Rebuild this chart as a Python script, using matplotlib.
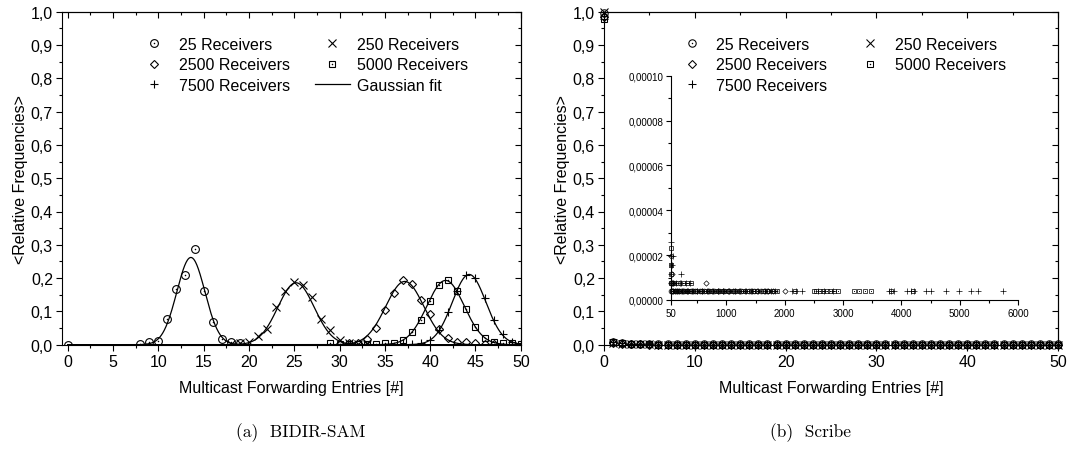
import numpy as np
import matplotlib
matplotlib.use('Agg')
import matplotlib.pyplot as plt
from matplotlib.ticker import MultipleLocator, FuncFormatter, FixedLocator
from matplotlib.legend_handler import HandlerTuple

plt.rcParams['font.family'] = ['Liberation Sans', 'DejaVu Sans']

# ---------------- data: (a) BIDIR-SAM ----------------
series_labels = ['25 Receivers', '250 Receivers', '2500 Receivers', '5000 Receivers', '7500 Receivers']

a25_x = [0, 8, 9, 10, 11, 12, 13, 14, 15, 16, 17, 18, 19]
a25_y = [0.0, 0.003, 0.007, 0.012, 0.076, 0.168, 0.210, 0.286, 0.161, 0.068, 0.016, 0.009, 0.006]

a250_x = [18, 19, 20, 21, 22, 23, 24, 25, 26, 27, 28, 29, 30, 31, 32, 33]
a250_y = [0.002, 0.004, 0.009, 0.027, 0.047, 0.114, 0.162, 0.187, 0.178, 0.143, 0.078, 0.045, 0.014, 0.006, 0.003, 0.001]

a2500_x = [30, 31, 32, 33, 34, 35, 36, 37, 38, 39, 40, 41, 42, 43, 44, 45, 46, 47]
a2500_y = [0.002, 0.004, 0.006, 0.018, 0.051, 0.105, 0.155, 0.195, 0.181, 0.133, 0.093, 0.048, 0.020, 0.009, 0.007, 0.004, 0.003, 0.002]

a5000_x = [29, 30, 31, 32, 33, 34, 35, 36, 37, 38, 39, 40, 41, 42, 43, 44, 45, 46, 47, 48, 49, 50]
a5000_y = [0.005, 0.003, 0.003, 0.003, 0.003, 0.003, 0.004, 0.006, 0.013, 0.037, 0.075, 0.131, 0.178, 0.193, 0.161, 0.108, 0.054, 0.021, 0.009, 0.006, 0.004, 0.002]

a7500_x = [37, 38, 39, 40, 41, 42, 43, 44, 45, 46, 47, 48, 49, 50]
a7500_y = [0.001, 0.002, 0.005, 0.015, 0.045, 0.099, 0.162, 0.209, 0.200, 0.141, 0.074, 0.031, 0.009, 0.005]

# Gaussian fit parameters (centre, sigma, amplitude) per series
fit_centre = [13.6, 25.2, 37.2, 41.7, 44.3]
fit_sigma = [1.55, 2.0, 2.1, 2.05, 1.85]
fit_amp = [0.262, 0.186, 0.190, 0.193, 0.211]

# ---------------- data: (b) Scribe ----------------
b_x = list(range(51))
b25_y = [0.997, 0.009, 0.005, 0.003, 0.002, 0.002, 0.001, 0.001, 0.001, 0.001,
         0.001, 0.001, 0.001, 0.001, 0.001, 0.001, 0.001, 0.001, 0.001, 0.001,
         0.001, 0.001, 0.001, 0.001, 0.001, 0.001, 0.001, 0.001, 0.001, 0.001,
         0.001, 0.001, 0.001, 0.001, 0.001, 0.001, 0.001, 0.001, 0.001, 0.001,
         0.001, 0.001, 0.001, 0.001, 0.001, 0.001, 0.001, 0.001, 0.001, 0.001, 0.001]
b250_y = [0.999, 0.004, 0.002, 0.001, 0.001, 0.001, 0.0, 0.0, 0.0, 0.0,
          0.0, 0.0, 0.0, 0.0, 0.0, 0.0, 0.0, 0.0, 0.0, 0.0,
          0.0, 0.0, 0.0, 0.0, 0.0, 0.0, 0.0, 0.0, 0.0, 0.0,
          0.0, 0.0, 0.0, 0.0, 0.0, 0.0, 0.0, 0.0, 0.0, 0.0,
          0.0, 0.0, 0.0, 0.0, 0.0, 0.0, 0.0, 0.0, 0.0, 0.0, 0.0]
b2500_y = [0.985, 0.006, 0.003, 0.001, 0.001, 0.0, 0.0, 0.0, 0.0, 0.0,
           0.0, 0.0, 0.0, 0.0, 0.0, 0.0, 0.0, 0.0, 0.0, 0.0,
           0.0, 0.0, 0.0, 0.0, 0.0, 0.0, 0.0, 0.0, 0.0, 0.0,
           0.0, 0.0, 0.0, 0.0, 0.0, 0.0, 0.0, 0.0, 0.0, 0.0,
           0.0, 0.0, 0.0, 0.0, 0.0, 0.0, 0.0, 0.0, 0.0, 0.0, 0.0]
b5000_y = [0.978, 0.008, 0.004, 0.002, 0.001, 0.001, 0.0, 0.0, 0.0, 0.0,
           0.0, 0.0, 0.0, 0.0, 0.0, 0.0, 0.0, 0.0, 0.0, 0.0,
           0.0, 0.0, 0.0, 0.0, 0.0, 0.0, 0.0, 0.0, 0.0, 0.0,
           0.0, 0.0, 0.0, 0.0, 0.0, 0.0, 0.0, 0.0, 0.0, 0.0,
           0.0, 0.0, 0.0, 0.0, 0.0, 0.0, 0.0, 0.0, 0.0, 0.0, 0.0]
b7500_y = [0.977, 0.009, 0.004, 0.002, 0.001, 0.001, 0.0, 0.0, 0.0, 0.0,
           0.0, 0.0, 0.0, 0.0, 0.0, 0.0, 0.0, 0.0, 0.0, 0.0,
           0.0, 0.0, 0.0, 0.0, 0.0, 0.0, 0.0, 0.0, 0.0, 0.0,
           0.0, 0.0, 0.0, 0.0, 0.0, 0.0, 0.0, 0.0, 0.0, 0.0,
           0.0, 0.0, 0.0, 0.0, 0.0, 0.0, 0.0, 0.0, 0.0, 0.0, 0.0]

# inset: tail of the Scribe distributions (entries 50..6000)
i25_x = [55, 80, 55, 90, 130, 175, 220, 270, 330, 390, 460, 540, 620, 700, 790, 880, 960, 1050, 1150, 1250, 1380, 1480, 1600, 1700]
i25_y = [7.8e-6, 7.8e-6, 3.9e-6, 3.9e-6, 3.9e-6, 3.9e-6, 3.9e-6, 3.9e-6, 3.9e-6, 3.9e-6, 3.9e-6, 3.9e-6, 3.9e-6, 3.9e-6, 3.9e-6, 3.9e-6, 3.9e-6, 3.9e-6, 3.9e-6, 3.9e-6, 3.9e-6, 3.9e-6, 3.9e-6, 3.9e-6]
i250_x = [52, 60, 120, 60, 110, 160, 210, 280, 350, 430, 510, 600, 690, 780, 870, 980, 1080, 1180, 1300, 1420, 1560, 1680, 1760, 1850]
i250_y = [1.56e-5, 7.8e-6, 7.8e-6, 3.9e-6, 3.9e-6, 3.9e-6, 3.9e-6, 3.9e-6, 3.9e-6, 3.9e-6, 3.9e-6, 3.9e-6, 3.9e-6, 3.9e-6, 3.9e-6, 3.9e-6, 3.9e-6, 3.9e-6, 3.9e-6, 3.9e-6, 3.9e-6, 3.9e-6, 3.9e-6, 3.9e-6]
i2500_x = [52, 60, 70, 200, 650, 70, 120, 190, 260, 340, 420, 500, 580, 680, 760, 850, 940, 1030, 1120, 1220, 1320, 1420, 1530, 1640, 1720, 1800, 2000]
i2500_y = [1.95e-5, 1.17e-5, 7.8e-6, 7.8e-6, 7.8e-6, 3.9e-6, 3.9e-6, 3.9e-6, 3.9e-6, 3.9e-6, 3.9e-6, 3.9e-6, 3.9e-6, 3.9e-6, 3.9e-6, 3.9e-6, 3.9e-6, 3.9e-6, 3.9e-6, 3.9e-6, 3.9e-6, 3.9e-6, 3.9e-6, 3.9e-6, 3.9e-6, 3.9e-6, 3.9e-6]
i5000_x = [52, 55, 52, 55, 100, 170, 250, 330, 400,
           65, 140, 210, 300, 380, 470, 560, 650, 740, 830, 910, 1000, 1100, 1190, 1280, 1360, 1450, 1520, 1620, 1700, 1780, 1870,
           2180, 2500, 2540, 2600, 2650, 2720, 2780, 2850, 2920, 3180, 3280, 3380, 3480, 3830, 4200]
i5000_y = [2.34e-5, 1.56e-5, 1.17e-5, 7.8e-6, 7.8e-6, 7.8e-6, 7.8e-6, 7.8e-6, 7.8e-6,
           3.9e-6, 3.9e-6, 3.9e-6, 3.9e-6, 3.9e-6, 3.9e-6, 3.9e-6, 3.9e-6, 3.9e-6, 3.9e-6, 3.9e-6, 3.9e-6, 3.9e-6, 3.9e-6, 3.9e-6, 3.9e-6, 3.9e-6, 3.9e-6, 3.9e-6, 3.9e-6, 3.9e-6, 3.9e-6,
           3.9e-6, 3.9e-6, 3.9e-6, 3.9e-6, 3.9e-6, 3.9e-6, 3.9e-6, 3.9e-6, 3.9e-6, 3.9e-6, 3.9e-6, 3.9e-6, 3.9e-6, 3.9e-6, 3.9e-6]
i7500_x = [50, 55, 90, 60, 55, 220, 50, 90, 140, 230, 300, 380,
           80, 150, 240, 320, 410, 490, 580, 670, 770, 860, 950, 1040, 1140, 1240, 1340, 1440, 1540, 1660, 1760, 1830,
           2130, 2200, 2290, 2570, 2680, 2820, 3780, 3820, 3880, 4100, 4160, 4220, 4420, 4500, 4760, 4990, 5200, 5310, 5740]
i7500_y = [2.6e-5, 1.95e-5, 1.95e-5, 1.56e-5, 1.17e-5, 1.17e-5, 7.8e-6, 7.8e-6, 7.8e-6, 7.8e-6, 7.8e-6, 7.8e-6,
           3.9e-6, 3.9e-6, 3.9e-6, 3.9e-6, 3.9e-6, 3.9e-6, 3.9e-6, 3.9e-6, 3.9e-6, 3.9e-6, 3.9e-6, 3.9e-6, 3.9e-6, 3.9e-6, 3.9e-6, 3.9e-6, 3.9e-6, 3.9e-6, 3.9e-6, 3.9e-6,
           3.9e-6, 3.9e-6, 3.9e-6, 3.9e-6, 3.9e-6, 3.9e-6, 3.9e-6, 3.9e-6, 3.9e-6, 3.9e-6, 3.9e-6, 3.9e-6, 3.9e-6, 3.9e-6, 3.9e-6, 3.9e-6, 3.9e-6, 3.9e-6, 3.9e-6]

# ---------------- figure ----------------
W, H = 1069, 452
fig = plt.figure(figsize=(W / 100, H / 100), dpi=100)


def px_axes(l, t, r, b, **kw):
    return fig.add_axes([l / W, 1 - b / H, (r - l) / W, (b - t) / H], **kw)


axL = px_axes(62, 12.7, 520.8, 345.7)
axR = px_axes(604, 12.7, 1058, 345.7)
axI = px_axes(671, 76.7, 1018, 301)

markers = ['o', 'x', 'D', 's', '+']
msizes = [5.6, 5.6, 4.4, 4.8, 6.4]
dotted = [True, False, False, True, False]
FS = 11.5
LW_AX = 0.8

comma1 = FuncFormatter(lambda v, p: f"{v:.1f}".replace('.', ','))
comma5 = FuncFormatter(lambda v, p: f"{v:.5f}".replace('.', ','))
intfmt = FuncFormatter(lambda v, p: f"{v:.0f}")


def plot_series(ax, x, y, i, scale=1.0):
    kw = dict(linestyle='none', marker=markers[i], ms=msizes[i] * scale, mfc='none',
              mec='black', mew=0.8 * (scale if scale < 1 else 1), color='black')
    ln, = ax.plot(x, y, **kw)
    handle = ln
    if dotted[i]:
        d, = ax.plot(x, y, linestyle='none', marker='o', ms=1.1 * scale, mfc='black', mec='black', mew=0)
        handle = (ln, d)
    return handle


def style_main(ax, xmaj, xmin, xlim):
    ax.set_xlim(*xlim)
    ax.set_ylim(0, 1.0)
    ax.xaxis.set_major_locator(MultipleLocator(xmaj))
    ax.xaxis.set_minor_locator(MultipleLocator(xmin))
    ax.yaxis.set_major_locator(MultipleLocator(0.1))
    ax.yaxis.set_minor_locator(MultipleLocator(0.05))
    ax.yaxis.set_major_formatter(comma1)
    ax.xaxis.set_major_formatter(intfmt)
    ax.tick_params(which='both', direction='out', width=LW_AX, labelsize=FS, pad=2)
    ax.tick_params(which='major', length=4.5)
    ax.tick_params(which='minor', length=2.5)
    for s in ax.spines.values():
        s.set_linewidth(LW_AX)
    top = ax.secondary_xaxis('top')
    top.xaxis.set_major_locator(MultipleLocator(xmaj))
    top.xaxis.set_minor_locator(MultipleLocator(xmin))
    top.tick_params(which='both', direction='in', labeltop=False, width=LW_AX)
    top.tick_params(which='major', length=4.5)
    top.tick_params(which='minor', length=2.5)
    top.spines['top'].set_linewidth(LW_AX)
    right = ax.secondary_yaxis('right')
    right.yaxis.set_major_locator(MultipleLocator(0.1))
    right.yaxis.set_minor_locator(MultipleLocator(0.05))
    right.tick_params(which='both', direction='in', labelright=False, width=LW_AX)
    right.tick_params(which='major', length=4.5)
    right.tick_params(which='minor', length=2.5)
    right.spines['right'].set_linewidth(LW_AX)
    ax.set_xlabel('Multicast Forwarding Entries [#]', fontsize=FS)
    ax.set_ylabel('<Relative Frequencies>', fontsize=FS)
    ax.xaxis.label.set_va('center')
    ax.yaxis.label.set_va('center')


LEG_KW = dict(handler_map={tuple: HandlerTuple(ndivide=1)}, ncol=2, loc='upper left',
              frameon=False, fontsize=FS, handlelength=2.25, handletextpad=0.42,
              columnspacing=1.55, labelspacing=0.33, borderpad=0, borderaxespad=0)

# ---- (a) ----
a_x = [a25_x, a250_x, a2500_x, a5000_x, a7500_x]
a_y = [a25_y, a250_y, a2500_y, a5000_y, a7500_y]
xs = np.linspace(0, 50, 1000)
fit_line = None
for c, s, A in zip(fit_centre, fit_sigma, fit_amp):
    fit_line, = axL.plot(xs, A * np.exp(-(xs - c) ** 2 / (2 * s ** 2)), color='black', lw=0.9)
handlesL = []
for i in range(5):
    handlesL.append(plot_series(axL, a_x[i], a_y[i], i))
style_main(axL, 5, 2.5, (-0.62, 50))
axL.xaxis.set_label_coords(0.5, (345.7 - 389) / 333)
axL.yaxis.set_label_coords((21 - 62) / 458.8, 0.5)

order = [0, 2, 4, 1, 3]
legL = axL.legend([handlesL[i] for i in order] + [fit_line],
                  [series_labels[i] for i in order] + ['Gaussian fit'],
                  bbox_to_anchor=((136 - 62) / 458.8, (345.7 - 38) / 333), **LEG_KW)

# ---- (b) ----
b_y = [b25_y, b250_y, b2500_y, b5000_y, b7500_y]
handlesR = []
for i in range(5):
    handlesR.append(plot_series(axR, b_x, b_y[i], i, scale=0.95))
for ln in axR.lines:
    ln.set_clip_on(False)
style_main(axR, 10, 5, (0, 50))
axR.xaxis.set_label_coords(0.5, (345.7 - 389) / 333)
axR.yaxis.set_label_coords((562 - 604) / 454, 0.5)
legR = axR.legend([handlesR[i] for i in order],
                  [series_labels[i] for i in order],
                  bbox_to_anchor=((673.7 - 604) / 454, (345.7 - 38) / 333), **LEG_KW)

# ---- inset ----
i_x = [i25_x, i250_x, i2500_x, i5000_x, i7500_x]
i_y = [i25_y, i250_y, i2500_y, i5000_y, i7500_y]
for i in range(5):
    plot_series(axI, i_x[i], i_y[i], i, scale=0.62)
for ln in axI.lines:
    ln.set_clip_on(False)
axI.set_xlim(50, 6000)
axI.set_ylim(0, 0.0001)
axI.patch.set_alpha(0)
axI.spines['top'].set_visible(False)
axI.spines['right'].set_visible(False)
for s in ('left', 'bottom'):
    axI.spines[s].set_linewidth(LW_AX)
axI.xaxis.set_major_locator(FixedLocator([50, 1000, 2000, 3000, 4000, 5000, 6000]))
axI.xaxis.set_minor_locator(FixedLocator([500, 1500, 2500, 3500, 4500, 5500]))
axI.xaxis.set_major_formatter(intfmt)
axI.yaxis.set_major_locator(MultipleLocator(0.00002))
axI.yaxis.set_minor_locator(MultipleLocator(0.00001))
axI.yaxis.set_major_formatter(comma5)
axI.tick_params(which='both', direction='out', width=LW_AX, labelsize=7, pad=2)
axI.tick_params(which='major', length=3.5)
axI.tick_params(which='minor', length=2)

# ---- captions ----
fig.text(301 / W, 1 - 433 / H, '(a)  BIDIR-SAM', family='cmr10', fontsize=12.5, ha='center', va='center')
fig.text(811 / W, 1 - 433 / H, '(b)  Scribe', family='cmr10', fontsize=12.5, ha='center', va='center')

fig.savefig('out.png', dpi=100)
